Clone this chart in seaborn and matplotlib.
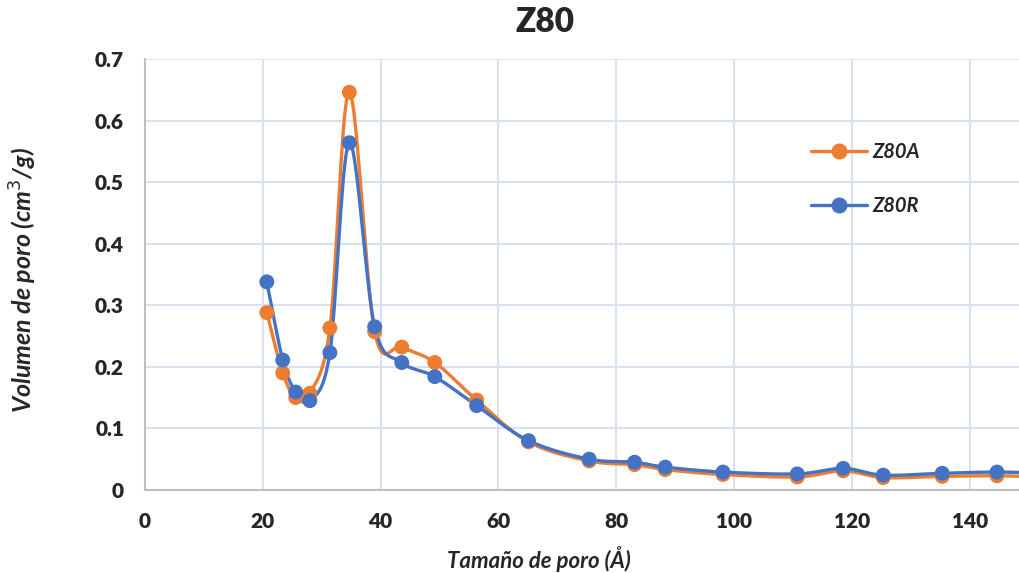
import numpy as np
import pandas as pd
import matplotlib
matplotlib.use("Agg")
import matplotlib.pyplot as plt
import seaborn as sns
from matplotlib.lines import Line2D

# --- Datos ---
tamano = [20.7, 23.4, 25.6, 28.0, 31.4, 34.7, 39.0, 43.6, 49.2, 56.3,
          65.1, 75.4, 83.1, 88.3, 98.1, 110.7, 118.5, 125.3, 135.3, 144.6, 153.0]
z80a = [0.288, 0.190, 0.150, 0.157, 0.263, 0.646, 0.257, 0.232, 0.207, 0.146,
        0.078, 0.047, 0.041, 0.033, 0.025, 0.021, 0.031, 0.020, 0.022, 0.023, 0.021]
z80r = [0.338, 0.211, 0.159, 0.145, 0.223, 0.564, 0.265, 0.207, 0.184, 0.137,
        0.080, 0.050, 0.045, 0.037, 0.029, 0.026, 0.035, 0.024, 0.027, 0.029, 0.027]

series = {"Z80A": z80a, "Z80R": z80r}
colores = {"Z80A": "#ED7D31", "Z80R": "#4472C4"}

df = pd.concat([pd.DataFrame({"Tamano": tamano, "Volumen": v, "Serie": k})
                for k, v in series.items()], ignore_index=True)


def suavizar(x, y, n=20, t=0.5):
    # curva tipo Catmull-Rom (línea suavizada de Excel)
    x = np.asarray(x, float)
    y = np.asarray(y, float)
    px = np.concatenate([[x[0]], x, [x[-1]]])
    py = np.concatenate([[y[0]], y, [y[-1]]])
    xs, ys = [], []
    s = np.linspace(0, 1, n)
    for i in range(1, len(px) - 2):
        p0, p1, p2, p3 = (np.array([px[j], py[j]]) for j in range(i - 1, i + 3))
        c1 = p1 + (p2 - p0) * t / 3
        c2 = p2 - (p3 - p1) * t / 3
        pts = ((1 - s) ** 3)[:, None] * p1 + (3 * (1 - s) ** 2 * s)[:, None] * c1 \
            + (3 * (1 - s) * s ** 2)[:, None] * c2 + (s ** 3)[:, None] * p2
        xs.extend(pts[:, 0])
        ys.extend(pts[:, 1])
    return np.array(xs), np.array(ys)


sns.set_style("white")
plt.rcParams['font.family'] = ['Lato', 'DejaVu Sans']

fig = plt.figure(figsize=(10.2, 5.73), dpi=100)
ax = fig.add_axes([0.142, 0.145, 0.858, 0.752])

for nombre in ["Z80A", "Z80R"]:
    xs, ys = suavizar(tamano, series[nombre])
    ax.plot(xs, ys, color=colores[nombre], lw=2.4, zorder=3)

sns.scatterplot(data=df, x="Tamano", y="Volumen", hue="Serie", palette=colores,
                s=115, edgecolor="none", legend=False, ax=ax, zorder=4)

ax.set_xlim(0, 148.5)
ax.set_ylim(0, 0.7)
ax.set_xticks(np.arange(0, 141, 20))
ax.set_yticks(np.arange(0, 0.71, 0.1))
ax.set_yticklabels(["0", "0.1", "0.2", "0.3", "0.4", "0.5", "0.6", "0.7"])
ax.grid(True, color="#D3DEF1", lw=1.3)
ax.set_axisbelow(True)
for lado in ["top", "right"]:
    ax.spines[lado].set_visible(False)
for lado in ["left", "bottom"]:
    ax.spines[lado].set_color("#BFBFBF")
    ax.spines[lado].set_linewidth(1.5)
ax.tick_params(axis="y", length=0, labelsize=15, pad=15)
ax.tick_params(axis="x", length=0, labelsize=15, pad=16)
for lbl in ax.get_xticklabels() + ax.get_yticklabels():
    lbl.set_fontweight("heavy")

ax.set_xlabel("Tamaño de poro (Å)", fontsize=16, fontweight="bold", style="italic")
ax.xaxis.set_label_coords(0.45, -0.13)
ax.set_ylabel("Volumen de poro (cm$^3$/g)", fontsize=18, fontweight="bold", style="italic")
ax.yaxis.set_label_coords(-0.121, 0.487)
fig.text(0.534, 0.962, "Z80", fontsize=24, fontweight="heavy", ha="center", va="center")

handles = [Line2D([0], [0], color=colores[k], lw=2.4, marker="o", markersize=10.5) for k in series]
leg = ax.legend(handles, list(series.keys()), loc="upper left", bbox_to_anchor=(0.74, 0.85),
                frameon=False, labelspacing=1.7, handlelength=2.8, handletextpad=0.25,
                prop={"weight": "bold", "style": "italic", "size": 14.5})

fig.savefig("out.png", dpi=100)
